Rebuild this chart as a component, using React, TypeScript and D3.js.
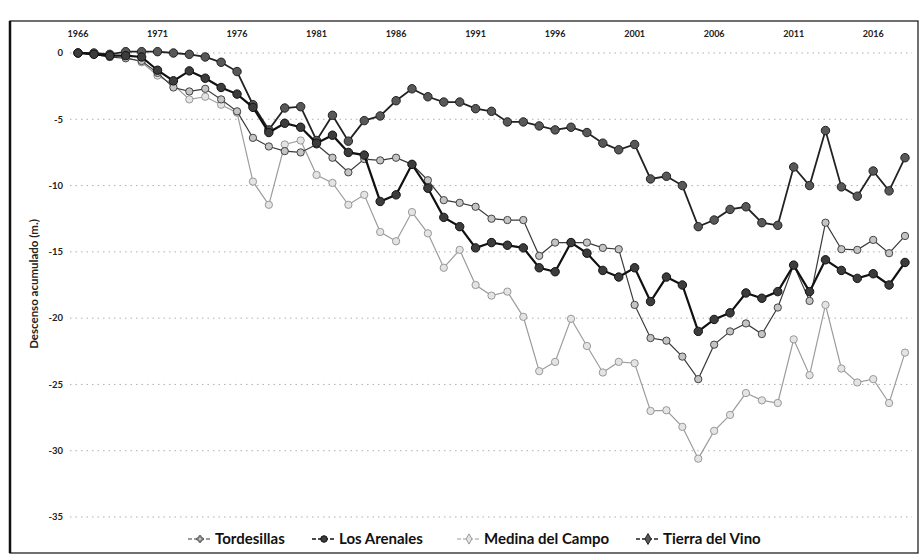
import React from "react";
import * as d3 from "d3";

// years on the category axis (1966 - 2018)
const years = d3.range(1966, 2019);
const tickYears = [1966, 1971, 1976, 1981, 1986, 1991, 1996, 2001, 2006, 2011, 2016];
const yTicks = [0, -5, -10, -15, -20, -25, -30, -35];

const tordesillas = [
  0, -0.1, -0.3, -0.4, -0.6, -1.5, -2.6, -2.9, -2.7, -3.5, -4.4, -6.4,
  -7.05, -7.4, -7.5, -6.9, -7.9, -9.0, -8.0, -8.1, -7.9, -8.4,
  -9.6, -11.1, -11.3, -11.6, -12.5, -12.6, -12.6, -15.3, -14.3, -14.3,
  -14.3, -14.7, -14.8, -19.0, -21.5, -21.7, -22.9, -24.6, -22.0, -21.0,
  -20.4, -21.2, -19.2, -16.0, -18.7, -12.8, -14.8, -14.85, -14.1, -15.1,
  -13.8,
];

const losArenales = [
  0, -0.1, -0.2, -0.2, -0.3, -1.3, -2.1, -1.35, -1.9, -2.6, -3.1, -4.1,
  -6.0, -5.3, -5.6, -6.8, -6.2, -7.5, -7.7, -11.2, -10.7, -8.4,
  -10.2, -12.4, -13.1, -14.7, -14.3, -14.5, -14.7, -16.2, -16.5, -14.3,
  -15.1, -16.4, -16.9, -16.2, -18.75, -16.9, -17.5, -21.0, -20.1, -19.6,
  -18.1, -18.5, -18.0, -16.0, -18.0, -15.6, -16.4, -17.0, -16.65, -17.5,
  -15.8,
];

const medinaDelCampo = [
  0, -0.1, -0.3, -0.3, -0.7, -1.7, -2.4, -3.5, -3.3, -3.9, -4.5, -9.7,
  -11.45, -6.9, -6.6, -9.2, -9.8, -11.45, -10.7, -13.5, -14.2, -12.0,
  -13.6, -16.2, -14.85, -17.5, -18.3, -18.0, -19.9, -24.0, -23.3, -20.05,
  -22.1, -24.1, -23.3, -23.4, -27.0, -26.95, -28.2, -30.6, -28.5, -27.3,
  -25.65, -26.2, -26.4, -21.6, -24.3, -19.0, -23.8, -24.85, -24.6, -26.4,
  -22.6,
];

const tierraDelVino = [
  0, 0, -0.1, 0.1, 0.1, 0.1, 0, -0.1, -0.3, -0.7, -1.4, -3.9,
  -5.8, -4.15, -4.05, -6.6, -4.7, -6.65, -5.1, -4.75, -3.6, -2.7,
  -3.3, -3.7, -3.7, -4.2, -4.4, -5.2, -5.2, -5.5, -5.8, -5.6,
  -6.0, -6.8, -7.3, -6.9, -9.5, -9.3, -10.0, -13.1, -12.6, -11.8,
  -11.6, -12.8, -13.0, -8.6, -10.0, -5.85, -10.1, -10.8, -8.9, -10.4,
  -7.9,
];

const series = [
  { name: "Tordesillas", values: tordesillas, line: "#3a3a3a", lw: 1.2, fill: "#c4c4c4", stroke: "#444", size: 42, legendSym: d3.symbolCross, legendSize: 22 },
  { name: "Los Arenales", values: losArenales, line: "#111", lw: 2.2, fill: "#3c3c3c", stroke: "#111", size: 56, legendSym: d3.symbolCircle, legendSize: 34 },
  { name: "Medina del Campo", values: medinaDelCampo, line: "#9c9c9c", lw: 1.2, fill: "#e4e4e4", stroke: "#999", size: 42, legendSym: d3.symbolDiamond, legendSize: 30 },
  { name: "Tierra del Vino", values: tierraDelVino, line: "#222", lw: 1.8, fill: "#585858", stroke: "#222", size: 56, legendSym: d3.symbolDiamond, legendSize: 34 },
];

const W = 921;
const H = 560;

export default function App() {
  const x = d3.scalePoint<number>().domain(years).range([78, 905]);
  const y = d3.scaleLinear().domain([0, -35]).range([53, 517]);

  const line = d3
    .line<number>()
    .x((_, i) => x(years[i]) as number)
    .y((d) => y(d));

  // light lines first, dark ones on top
  const drawOrder = [2, 0, 3, 1];
  const legendX = [188, 312, 457, 636];

  return (
    <svg
      width={W}
      height={H}
      style={{ position: "absolute", left: 0, top: 0, background: "#fff" }}
      fontFamily="Lato, 'Open Sans', sans-serif"
    >
      {/* frame */}
      <rect x={10} y={21} width={908} height={532} fill="none" stroke="#222" strokeWidth={1.3} />
      <line x1={10} y1={21} x2={10} y2={553} stroke="#111" strokeWidth={2.5} />

      {/* gridlines */}
      {yTicks.map((t) => (
        <line
          key={"g" + t}
          x1={70}
          x2={912}
          y1={y(t)}
          y2={y(t)}
          stroke="#9a9a9a"
          strokeWidth={0.8}
          strokeDasharray="1.5,4"
        />
      ))}

      {/* y tick labels */}
      {yTicks.map((t) => (
        <text key={"y" + t} x={63} y={y(t)} dy="0.35em" textAnchor="end" fontSize={9.5} fontWeight="bold" fill="#222">
          {t}
        </text>
      ))}

      {/* x tick labels (top) */}
      {tickYears.map((yr) => (
        <text key={"x" + yr} x={x(yr)} y={37} textAnchor="middle" fontSize={9} fontWeight="bold" fill="#222">
          {yr}
        </text>
      ))}

      {/* axis title */}
      <text
        transform={`translate(38, 284) rotate(-90)`}
        textAnchor="middle"
        fontSize={11.5}
        fontWeight="bold"
        fill="#222"
      >
        Descenso acumulado (m.)
      </text>

      {/* series */}
      {drawOrder.map((si) => {
        const s = series[si];
        const sym = d3.symbol().type(d3.symbolCircle).size(s.size)();
        return (
          <g key={s.name}>
            <path d={line(s.values) || ""} fill="none" stroke={s.line} strokeWidth={s.lw} />
            {s.values.map((v, i) => (
              <path
                key={i}
                d={sym || ""}
                transform={`translate(${x(years[i])},${y(v)})`}
                fill={s.fill}
                stroke={s.stroke}
                strokeWidth={1}
              />
            ))}
          </g>
        );
      })}

      {/* legend */}
      {series.map((s, i) => {
        const lx = legendX[i];
        const ly = 539;
        const sym = d3.symbol().type(s.legendSym).size(s.legendSize)();
        return (
          <g key={"l" + s.name}>
            <line x1={lx} x2={lx + 24} y1={ly} y2={ly} stroke={s.line} strokeWidth={s.lw > 1.5 ? 1.6 : 1.1} strokeDasharray="4,2" />
            <path d={sym || ""} transform={`translate(${lx + 12},${ly})`} fill={s.fill} stroke={s.stroke} strokeWidth={1} />
            <text x={lx + 27} y={ly} dy="0.35em" fontSize={15} fontWeight="bold" fill="#111">
              {s.name}
            </text>
          </g>
        );
      })}
    </svg>
  );
}
